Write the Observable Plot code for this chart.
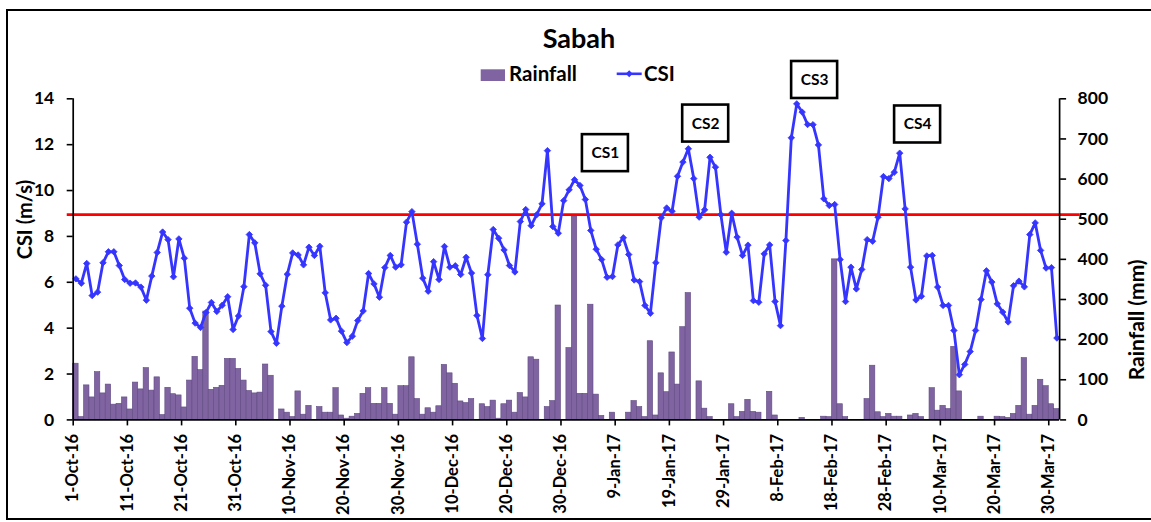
<!DOCTYPE html>
<html>
<head>
<meta charset="utf-8">
<script src="https://cdn.jsdelivr.net/npm/d3@7"></script>
<script src="https://cdn.jsdelivr.net/npm/@observablehq/plot@0.6"></script>
<style>
html,body{margin:0;padding:0;background:#fff;}
#wrap{position:relative;width:1151px;height:522px;overflow:hidden;background:#fff;}
#clip{position:absolute;left:0;top:0;width:1151px;height:519px;overflow:hidden;}
#clip svg{position:absolute;left:0;top:0;}
#frame{position:absolute;left:6px;top:9px;width:1200px;height:511px;border:2.5px solid #000;box-sizing:border-box;pointer-events:none;}
#over{position:absolute;left:0;top:0;}
</style>
</head>
<body>
<div id="wrap"><div id="clip"></div><div id="frame"></div></div>
<script>
// ---- data (daily, 1-Oct-16 .. 31-Mar-17) ----
const csi = [
  6.15, 5.96, 6.82, 5.42, 5.57, 6.85, 7.33, 7.33, 6.73, 6.12,
  5.96, 5.97, 5.79, 5.22, 6.27, 7.30, 8.19, 7.86, 6.24, 7.89,
  7.05, 4.87, 4.22, 4.03, 4.68, 5.12, 4.73, 5.00, 5.37, 3.94,
  4.53, 5.81, 8.08, 7.72, 6.37, 5.87, 3.85, 3.34, 4.96, 6.35,
  7.28, 7.19, 6.76, 7.53, 7.17, 7.57, 5.54, 4.36, 4.43, 3.87,
  3.37, 3.65, 4.33, 4.75, 6.38, 5.93, 5.35, 6.64, 7.17, 6.66,
  6.76, 8.62, 9.08, 7.66, 6.18, 5.61, 6.90, 6.12, 7.56, 6.66,
  6.72, 6.34, 7.09, 6.40, 4.55, 3.55, 6.33, 8.30, 7.92, 7.41,
  6.73, 6.45, 8.65, 9.17, 8.47, 8.94, 9.42, 11.74, 8.43, 8.14,
  9.56, 10.03, 10.47, 10.22, 9.61, 8.26, 7.44, 6.99, 6.22, 6.25,
  7.63, 7.94, 7.21, 6.10, 6.03, 4.99, 4.65, 6.85, 8.81, 9.24,
  9.10, 10.62, 11.24, 11.82, 10.52, 8.84, 9.16, 11.45, 11.02, 8.95,
  7.31, 9.01, 7.97, 7.17, 7.62, 5.20, 5.13, 7.24, 7.63, 5.16,
  4.11, 7.82, 12.30, 13.78, 13.42, 12.88, 12.87, 11.99, 9.64, 9.35,
  9.39, 6.99, 5.16, 6.66, 5.71, 6.56, 7.86, 7.79, 8.84, 10.61,
  10.52, 10.80, 11.63, 9.20, 6.66, 5.23, 5.39, 7.15, 7.17, 5.79,
  4.99, 4.99, 3.90, 1.97, 2.42, 2.98, 3.90, 5.25, 6.50, 6.01,
  5.06, 4.70, 4.27, 5.85, 6.05, 5.80, 8.08, 8.59, 7.39, 6.62,
  6.64, 3.57
];
const rainfall = [
  140, 7, 86, 56, 119, 66, 88, 38, 40, 56,
  26, 93, 76, 129, 73, 106, 12, 80, 64, 61,
  31, 98, 157, 124, 270, 75, 80, 85, 152, 152,
  127, 98, 72, 66, 68, 138, 110, 0, 26, 18,
  7, 71, 13, 35, 0, 32, 18, 18, 79, 11,
  3, 8, 15, 65, 79, 40, 40, 79, 40, 13,
  84, 84, 156, 52, 13, 29, 18, 34, 137, 116,
  90, 46, 42, 52, 0, 39, 32, 48, 3, 39,
  48, 18, 67, 56, 156, 150, 0, 32, 47, 285,
  0, 179, 507, 65, 65, 287, 63, 10, 0, 18,
  0, 0, 18, 47, 32, 7, 196, 11, 116, 69,
  168, 88, 231, 316, 0, 96, 28, 7, 0, 0,
  0, 39, 7, 20, 50, 20, 18, 0, 70, 11,
  0, 0, 0, 0, 5, 0, 0, 0, 8, 7,
  400, 39, 7, 0, 0, 0, 52, 135, 19, 7,
  15, 8, 8, 0, 11, 15, 7, 0, 79, 23,
  35, 27, 182, 71, 0, 0, 0, 8, 0, 0,
  8, 7, 5, 15, 35, 154, 13, 35, 100, 84,
  39, 27
];
const tickDays = [0,10,20,30,40,50,60,70,80,90,100,110,120,130,140,150,160,170,180];
const tickLabels = ["1-Oct-16","11-Oct-16","21-Oct-16","31-Oct-16","10-Nov-16","20-Nov-16","30-Nov-16",
  "10-Dec-16","20-Dec-16","30-Dec-16","9-Jan-17","19-Jan-17","29-Jan-17","8-Feb-17","18-Feb-17",
  "28-Feb-17","10-Mar-17","20-Mar-17","30-Mar-17"];
const csiTicks = [0,2,4,6,8,10,12,14];
const rainTicks = [0,100,200,300,400,500,600,700,800];
const threshold = 8.95;
const annotations = [
  {label:"CS1", day:98.2, csi:11.63},
  {label:"CS2", day:116.7, csi:12.92},
  {label:"CS3", day:136.8, csi:14.82},
  {label:"CS4", day:155.8, csi:12.88}
];

const nDays = csi.length;
const csiMax = 14, rainMax = 800;
const toCsi = r => r * csiMax / rainMax;
const rows = d3.range(nDays).map(i => ({i, csi: csi[i], rain: rainfall[i]}));

const FONT = "Lato, 'Open Sans', sans-serif";
const BLUE = "#3535ff", PURPLE = "#8064a2";

const chart = Plot.plot({
  width: 1151, height: 522,
  marginLeft: 72.7, marginRight: 91.9, marginTop: 98.3, marginBottom: 102.6,
  style: {fontFamily: FONT, fontWeight: "bold", color: "#000", background: "transparent", overflow: "visible"},
  x: {domain: [0, nDays], axis: null},
  y: {domain: [0, csiMax], axis: null},
  marks: [
    Plot.rectY(rows, {x1: d => d.i, x2: d => d.i + 1, y1: 0, y2: d => toCsi(d.rain),
      fill: PURPLE, stroke: "#5f4a80", strokeWidth: 0.6}),
    Plot.ruleY([threshold], {x1: -1.1, x2: nDays + 3.8, stroke: "#ff0000", strokeWidth: 2.6}),
    Plot.line(rows, {x: d => d.i + 0.5, y: "csi", stroke: BLUE, strokeWidth: 2.8, strokeLinejoin: "round"}),
    Plot.dot(rows, {x: d => d.i + 0.5, y: "csi", symbol: "diamond2", r: 2.9, fill: BLUE, stroke: BLUE, strokeWidth: 0.8}),
    Plot.ruleX([0, nDays], {stroke: "#000", strokeWidth: 1.7}),
    Plot.ruleY([0], {stroke: "#000", strokeWidth: 1.7}),
    Plot.axisY({anchor: "left", ticks: csiTicks, tickSize: 6, tickPadding: 13, fontSize: 17.5, fontWeight: "bold", strokeWidth: 1.6, label: null}),
    Plot.axisY({anchor: "right", ticks: rainTicks.map(toCsi), tickFormat: v => Math.round(v * rainMax / csiMax),
      tickSize: 6, tickPadding: 12, fontSize: 17.5, fontWeight: "bold", strokeWidth: 1.6, label: null}),
    Plot.axisX({ticks: tickDays, tickFormat: d => tickLabels[tickDays.indexOf(d)], tickRotate: -90,
      tickSize: 6, tickPadding: 8, fontSize: 16.5, fontWeight: "bold", strokeWidth: 1.6, label: null}),
    Plot.text(["CSI (m/s)"], {frameAnchor: "left", dx: -47.7, rotate: -90, fontSize: 20, fontWeight: "bold", fill: "#000"}),
    Plot.text(["Rainfall (mm)"], {frameAnchor: "right", dx: 77.6, rotate: -90, fontSize: 21, fontWeight: "bold", fill: "#000"}),
    Plot.rect(annotations, {x1: "day", x2: "day", y1: "csi", y2: "csi",
      insetLeft: -23, insetRight: -23, insetTop: -18.5, insetBottom: -18.5,
      fill: "#fff", stroke: "#000", strokeWidth: 2.6}),
    Plot.text(annotations, {x: "day", y: "csi", text: "label", fontSize: 15.5, fontWeight: "bold", fill: "#000"})
  ]
});
document.getElementById("clip").appendChild(chart);

// ---- title and legend ----
const over = d3.select("#wrap").append("svg").attr("id", "over")
  .attr("width", 1151).attr("height", 98)
  .style("font-family", FONT).style("font-weight", "bold");
over.append("text").attr("x", 579).attr("y", 48.3).attr("text-anchor", "middle")
  .attr("font-size", 27).text("Sabah");
over.append("rect").attr("x", 480.7).attr("y", 69.3).attr("width", 24.3).attr("height", 11.7).attr("fill", PURPLE);
over.append("text").attr("x", 509).attr("y", 81.3).attr("font-size", 20.5).text("Rainfall");
over.append("line").attr("x1", 616.7).attr("x2", 641.7).attr("y1", 73.8).attr("y2", 73.8)
  .attr("stroke", BLUE).attr("stroke-width", 2.6);
over.append("path").attr("d", d3.symbol(d3.symbolDiamond2, 30)()).attr("transform", "translate(629.2,73.8)").attr("fill", BLUE);
over.append("text").attr("x", 644).attr("y", 81.3).attr("font-size", 20.5).text("CSI");
</script>
</body>
</html>
